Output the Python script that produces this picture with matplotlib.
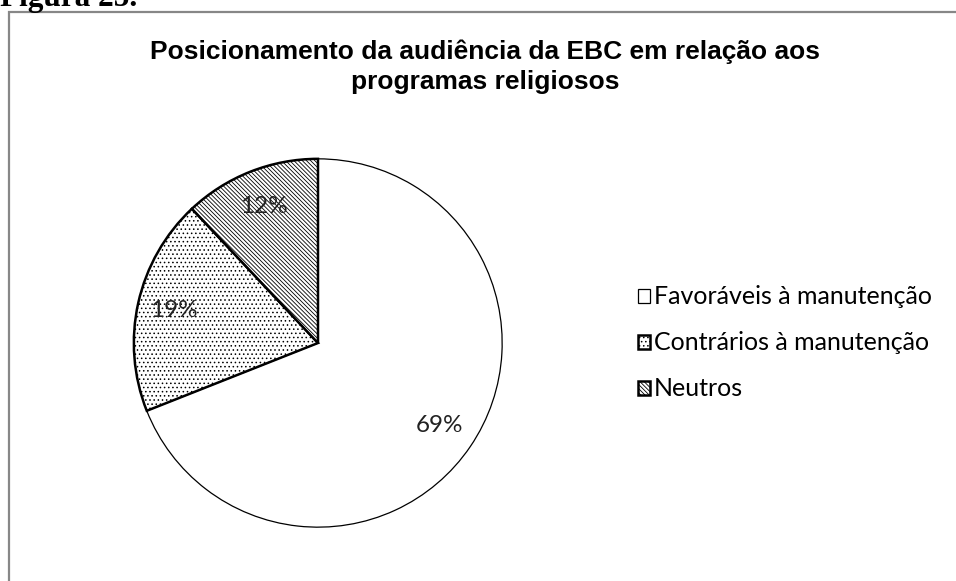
import matplotlib.pyplot as plt
from matplotlib.patches import Rectangle

# data
labels = ['Favoráveis à manutenção', 'Contrários à manutenção', 'Neutros']
shares = [69, 19, 12]
hatches = ['', '....', '\\' * 8]
edge_widths = [0.9, 1.8, 1.8]

plt.rcParams['hatch.linewidth'] = 0.6

fig = plt.figure(figsize=(9.56, 5.81), dpi=100)
W, H = 956, 581

# outer chart frame (right and bottom run off the picture)
fig.patches.append(Rectangle((9 / W, -0.1), 1.2, 1.1 - 12 / H,
                             transform=fig.transFigure, fill=False,
                             edgecolor='#878787', linewidth=1.6))

fig.text(0 / W, 1 - 6 / H, 'Figura 25.', family='Liberation Serif',
         weight='bold', fontsize=22.5, va='baseline', ha='left')

fig.text(485 / W, 1 - 67 / H,
         'Posicionamento da audiência da EBC em relação aos\nprogramas religiosos',
         family='Liberation Sans', weight='bold', fontsize=19,
         ha='center', va='center', linespacing=1.3)

# pie centred at (318, 343) px, radius 186 px
r = 186
cx, cy = 318, H - 343
ax = fig.add_axes([(cx - r) / W, (cy - r) / H, 2 * r / W, 2 * r / H])
wedges, texts, autotexts = ax.pie(
    shares, startangle=90, counterclock=False, radius=1,
    colors=['white'] * 3, autopct='%d%%', pctdistance=0.8,
    textprops={'family': 'Lato', 'fontsize': 17.5, 'color': '#222222'})
for w, h, lw in zip(wedges, hatches, edge_widths):
    w.set_hatch(h)
    w.set_edgecolor('black')
    w.set_linewidth(lw)
ax.set_xlim(-1.01, 1.01)
ax.set_ylim(-1.01, 1.01)
ax.axis('off')

fig.legend(wedges, labels, loc='center left',
           bbox_to_anchor=(615 / W, 1 - 343 / H), frameon=False,
           prop={'family': 'Lato', 'size': 18}, handlelength=0.5,
           handleheight=0.5, handletextpad=0.15, labelspacing=0.92)

fig.savefig('out.png', dpi=100)
